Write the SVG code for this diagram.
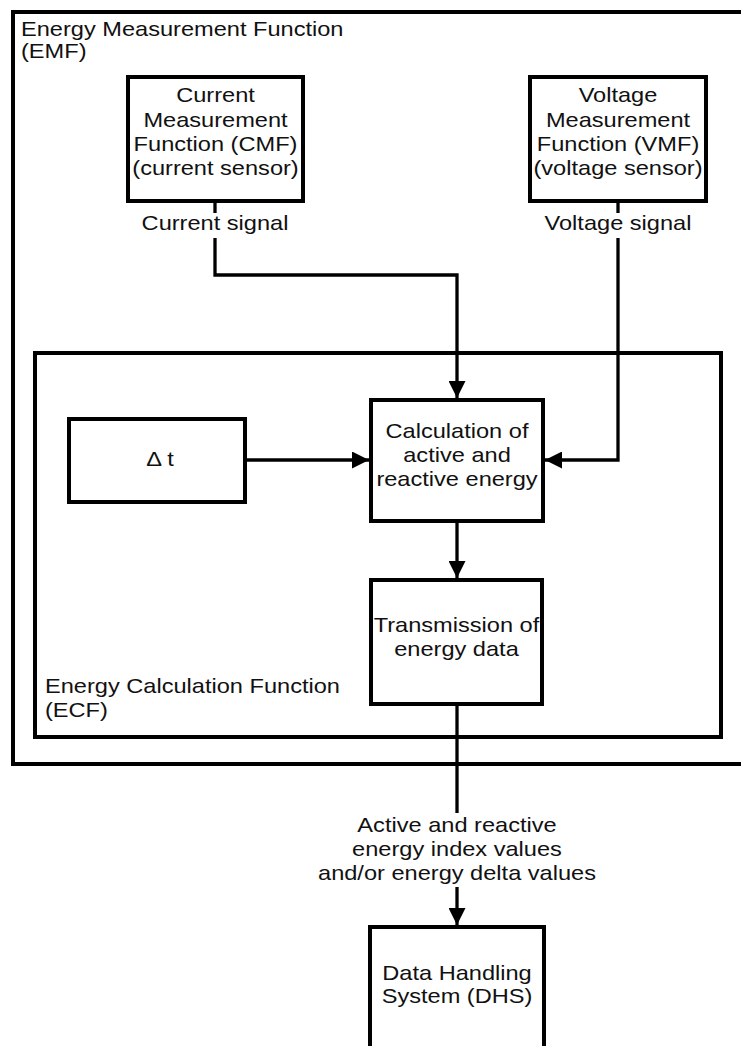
<svg xmlns="http://www.w3.org/2000/svg" width="741" height="1046" viewBox="0 0 741 1046">
<style>
.box{fill:none;stroke:#000;stroke-width:4}
.wbox{fill:#fff;stroke:#000;stroke-width:4}
.c{fill:none;stroke:#000;stroke-width:3.3}
.t{font-family:"Liberation Sans",Arial,sans-serif;font-size:20px;fill:#111;text-anchor:middle}
.l{font-family:"Liberation Sans",Arial,sans-serif;font-size:20px;fill:#111;text-anchor:start}
</style>
<defs>
<marker id="ah" viewBox="0 0 17 17" refX="17" refY="8.5" markerWidth="17" markerHeight="17" markerUnits="userSpaceOnUse" orient="auto">
<path d="M0,0 L17,8.5 L0,17 z" fill="#000"/>
</marker>
</defs>
<rect width="741" height="1046" fill="#fff"/>

<g id="emf">
<rect class="box" x="13" y="12" width="740" height="752"/>
<text class="l" transform="translate(21 0) scale(1.18 1)" y="36">Energy Measurement Function</text>
<text class="l" transform="translate(21 0) scale(1.18 1)" y="58">(EMF)</text>
</g>

<g id="ecf">
<rect class="box" x="35" y="353" width="686" height="384"/>
<text class="l" transform="translate(45 0) scale(1.18 1)" y="693">Energy Calculation Function</text>
<text class="l" transform="translate(45 0) scale(1.18 1)" y="717">(ECF)</text>
</g>

<g id="cmf">
<rect class="wbox" x="128" y="77" width="175" height="124"/>
<text class="t" transform="translate(215.5 0) scale(1.18 1)" y="102">Current</text>
<text class="t" transform="translate(215.5 0) scale(1.18 1)" y="127">Measurement</text>
<text class="t" transform="translate(215.5 0) scale(1.18 1)" y="151">Function (CMF)</text>
<text class="t" transform="translate(215.5 0) scale(1.18 1)" y="175">(current sensor)</text>
</g>

<g id="vmf">
<rect class="wbox" x="530" y="77" width="176" height="124"/>
<text class="t" transform="translate(618 0) scale(1.18 1)" y="102">Voltage</text>
<text class="t" transform="translate(618 0) scale(1.18 1)" y="127">Measurement</text>
<text class="t" transform="translate(618 0) scale(1.18 1)" y="151">Function (VMF)</text>
<text class="t" transform="translate(618 0) scale(1.18 1)" y="175">(voltage sensor)</text>
</g>

<g id="dt">
<rect class="wbox" x="69" y="419" width="176" height="83"/>
<text class="t" transform="translate(160 0) scale(1.18 1)" y="466">Δ t</text>
</g>

<g id="calc">
<rect class="wbox" x="371" y="400" width="172" height="121"/>
<text class="t" transform="translate(457 0) scale(1.18 1)" y="438">Calculation of</text>
<text class="t" transform="translate(457 0) scale(1.18 1)" y="462">active and</text>
<text class="t" transform="translate(457 0) scale(1.18 1)" y="486">reactive energy</text>
</g>

<g id="trans">
<rect class="wbox" x="371" y="580" width="171" height="124"/>
<text class="t" transform="translate(456.5 0) scale(1.18 1)" y="632">Transmission of</text>
<text class="t" transform="translate(456.5 0) scale(1.18 1)" y="656">energy data</text>
</g>

<g id="dhs">
<rect class="wbox" x="370" y="927" width="174" height="200"/>
<text class="t" transform="translate(457 0) scale(1.18 1)" y="980">Data Handling</text>
<text class="t" transform="translate(457 0) scale(1.18 1)" y="1003">System (DHS)</text>
</g>

<g id="connectors">
<path class="c" d="M215,201 V213"/>
<path class="c" d="M215,238 V275 H457 V398" marker-end="url(#ah)"/>
<text class="t" transform="translate(215 0) scale(1.18 1)" y="230">Current signal</text>
<path class="c" d="M618,201 V213"/>
<path class="c" d="M618,238 V460 H545" marker-end="url(#ah)"/>
<text class="t" transform="translate(618 0) scale(1.18 1)" y="230">Voltage signal</text>
<path class="c" d="M247,460 H369" marker-end="url(#ah)"/>
<path class="c" d="M457,523 V578" marker-end="url(#ah)"/>
<path class="c" d="M457,706 V813"/>
<path class="c" d="M457,887 V925" marker-end="url(#ah)"/>
<text class="t" transform="translate(457 0) scale(1.18 1)" y="832">Active and reactive</text>
<text class="t" transform="translate(457 0) scale(1.18 1)" y="856">energy index values</text>
<text class="t" transform="translate(457 0) scale(1.18 1)" y="880">and/or energy delta values</text>
</g>
</svg>
